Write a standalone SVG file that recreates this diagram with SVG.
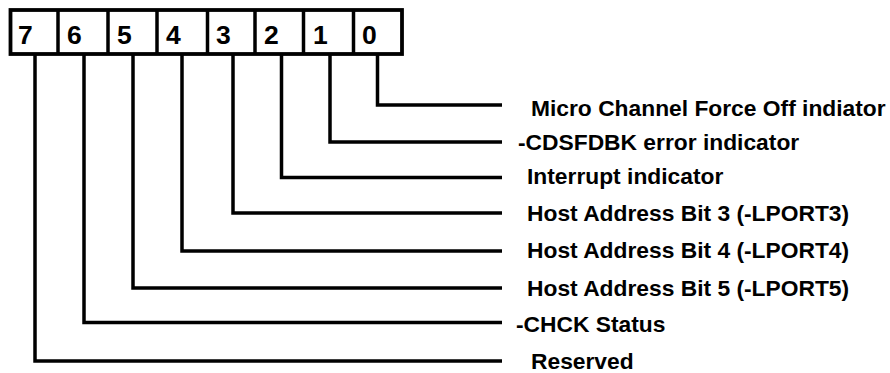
<svg xmlns="http://www.w3.org/2000/svg" width="890" height="373" viewBox="0 0 890 373">
<style>
.box{fill:none;stroke:#000;stroke-width:3.8}
.div{stroke:#000;stroke-width:3.5}
.conn{fill:none;stroke:#000;stroke-width:3.5;stroke-linejoin:miter}
.dig{font-family:"Liberation Sans",Arial,sans-serif;font-weight:bold;font-size:26.5px;fill:#000}
.lbl{font-family:"Liberation Sans",Arial,sans-serif;font-weight:bold;font-size:22.8px;fill:#000}
</style>
<rect width="890" height="373" fill="#fff"/>
<g id="register">
<rect class="box" x="10.5" y="10" width="391.5" height="44"/>
<line class="div" x1="58" y1="10" x2="58" y2="54"/>
<line class="div" x1="108" y1="10" x2="108" y2="54"/>
<line class="div" x1="157" y1="10" x2="157" y2="54"/>
<line class="div" x1="207.5" y1="10" x2="207.5" y2="54"/>
<line class="div" x1="255" y1="10" x2="255" y2="54"/>
<line class="div" x1="303.5" y1="10" x2="303.5" y2="54"/>
<line class="div" x1="353.5" y1="10" x2="353.5" y2="54"/>
<text class="dig" x="18" y="44">7</text>
<text class="dig" x="67" y="44">6</text>
<text class="dig" x="117" y="44">5</text>
<text class="dig" x="166" y="44">4</text>
<text class="dig" x="216" y="44">3</text>
<text class="dig" x="264" y="44">2</text>
<text class="dig" x="313" y="44">1</text>
<text class="dig" x="362" y="44">0</text>
</g>
<g id="connectors">
<path class="conn" d="M377.5,55 V105 H502"/>
<path class="conn" d="M330,55 V142 H502"/>
<path class="conn" d="M281.5,55 V177.5 H502"/>
<path class="conn" d="M233,55 V213 H502"/>
<path class="conn" d="M182,55 V251 H502"/>
<path class="conn" d="M133,55 V288 H502"/>
<path class="conn" d="M84,55 V322.5 H502"/>
<path class="conn" d="M35,55 V361 H502"/>
</g>
<g id="label-bit0"><text class="lbl" x="531" y="116">Micro Channel Force Off indiator</text></g>
<g id="label-bit1"><text class="lbl" x="518" y="150">-CDSFDBK error indicator</text></g>
<g id="label-bit2"><text class="lbl" x="527" y="184">Interrupt indicator</text></g>
<g id="label-bit3"><text class="lbl" x="527" y="221">Host Address Bit 3 (-LPORT3)</text></g>
<g id="label-bit4"><text class="lbl" x="527" y="258">Host Address Bit 4 (-LPORT4)</text></g>
<g id="label-bit5"><text class="lbl" x="527" y="296">Host Address Bit 5 (-LPORT5)</text></g>
<g id="label-bit6"><text class="lbl" x="516" y="332">-CHCK Status</text></g>
<g id="label-bit7"><text class="lbl" x="531" y="369">Reserved</text></g>
</svg>
